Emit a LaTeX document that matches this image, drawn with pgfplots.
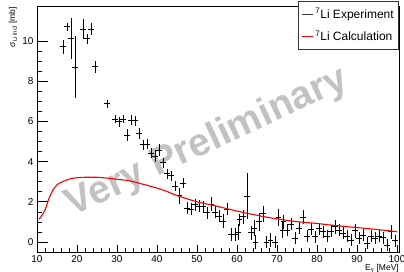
\documentclass[border=0pt]{standalone}
\usepackage{fontspec}
\setmainfont{Liberation Sans}
\usepackage{pgfplots}
\usepackage{pgfplotstable}
\pgfplotsset{compat=1.18}

\pgfplotstableread{
x y ey
16.5 9.72 0.35
17.5 10.71 0.2
18.5 10.13 1.04
19.5 8.70 1.55
21.5 10.60 0.5
22.5 10.13 0.25
23.5 10.60 0.3
24.5 8.72 0.3
27.5 6.88 0.2
29.5 6.10 0.2
30.5 5.99 0.25
31.5 6.12 0.2
32.5 5.32 0.3
33.5 6.07 0.25
34.5 6.04 0.25
35.5 5.40 0.25
36.5 4.85 0.25
37.5 4.88 0.25
38.5 4.41 0.25
39.5 4.26 0.3
40.5 4.56 0.3
41.5 3.95 0.25
42.5 3.40 0.25
43.5 3.29 0.25
44.5 2.77 0.25
45.5 2.30 0.4
46.5 2.93 0.25
47.5 1.68 0.3
48.5 1.62 0.3
49.5 1.86 0.3
50.5 1.77 0.3
51.5 1.76 0.3
52.5 1.45 0.3
53.5 1.89 0.35
54.5 1.49 0.3
55.5 1.29 0.3
56.5 1.03 0.35
57.5 1.62 0.3
58.5 0.37 0.3
59.5 0.37 0.3
60.3 0.50 0.4
60.7 1.10 0.3
61.5 1.26 0.35
62.5 2.29 1.16
63.5 0.46 0.35
64.3 0.68 0.4
64.7 0.00 0.35
65.5 1.00 0.45
66.5 1.40 0.4
67.3 0.00 0.3
68.3 0.10 0.35
69.5 0.00 0.3
70.3 1.23 0.43
71.3 0.60 0.4
71.7 1.00 0.35
72.5 0.60 0.3
73.5 0.88 0.3
74.5 0.18 0.3
75.5 0.68 0.3
76.5 1.23 0.35
77.5 0.30 0.3
78.5 0.63 0.3
79.5 0.26 0.3
80.5 0.65 0.3
81.5 0.51 0.3
82.5 0.30 0.3
83.5 0.55 0.3
84.5 0.76 0.35
85.5 0.60 0.3
86.5 0.43 0.3
87.5 0.30 0.3
88.5 0.10 0.3
89.5 0.56 0.35
90.5 0.18 0.3
91.5 0.35 0.3
92.5 -0.07 0.3
93.5 0.30 0.3
94.5 0.18 0.3
95.5 0.30 0.3
96.5 0.21 0.3
97.5 -0.15 0.3
98.5 0.51 0.35
99.5 0.07 0.3
}\expdata

\pgfplotstableread{
x y
10.5 1.13
11 1.25
12 1.59
13 2.17
14 2.59
15 2.84
16 2.97
17 3.05
18 3.13
20 3.20
22 3.22
25 3.22
28 3.17
30 3.12
33 3.05
36 2.90
40 2.68
42 2.55
45 2.31
50 2.00
55 1.78
58 1.63
62 1.45
67 1.25
70 1.15
75 1.01
80 0.92
83 0.85
88 0.75
92 0.68
96 0.60
100 0.51
}\calcdata

\begin{document}
\begin{tikzpicture}
\begin{axis}[
  scale only axis, width=362pt, height=246pt,
  xmin=10, xmax=100.5, ymin=-0.5, ymax=11.75,
  axis line style={line width=0.7pt},
  xtick={10,20,...,100}, minor x tick num=4,
  ytick={0,2,...,10}, minor y tick num=3,
  tick align=inside, tick pos=left,
  tick style={black, line width=0.6pt},
  xtick style={/pgfplots/major tick length=7.4pt,/pgfplots/minor tick length=3.7pt},
  ytick style={/pgfplots/major tick length=10.8pt,/pgfplots/minor tick length=5.4pt},
  /pgf/number format/assume math mode=true,
  ticklabel style={font=\fontsize{10}{11}\selectfont},
  xticklabel style={yshift=0pt},
  legend style={at={(rel axis cs:1,1)}, anchor=north east, yshift=5pt,
    draw=black!80, line width=0.6pt, fill=white,
    font=\fontsize{12}{13}\selectfont, inner xsep=3pt, inner ysep=5pt,
    row sep=7pt, legend cell align=left},
  legend image code/.code={\draw[#1] (0pt,0pt) -- (11pt,0pt);},
]
\node[rotate=25, text=black!24, font=\fontsize{39}{40}\selectfont\bfseries]
  at (axis cs:52.5,4.95) {Very Preliminary};
\addplot[black, draw=none, mark=none, forget plot,
  error bars/.cd, x dir=both, x fixed=0.65, y dir=both, y explicit,
  error mark=none, error bar style={line width=0.8pt, black, solid}]
  table[x=x, y=y, y error=ey] {\expdata};
\addplot[red, line width=1.1pt, smooth, forget plot] table[x=x, y=y] {\calcdata};
\addlegendimage{black!80, line width=0.8pt}
\addlegendentry{\textsuperscript{7}Li Experiment}
\addlegendimage{red, line width=0.8pt}
\addlegendentry{\textsuperscript{7}Li Calculation}
\end{axis}
\node[anchor=north east, inner sep=0pt, font=\fontsize{8.5}{10}\selectfont]
  at ([yshift=-12pt]current axis.south east) {E\textsubscript{γ} [MeV]};
\node[rotate=90, anchor=east, inner sep=0pt, font=\fontsize{8.5}{10}\selectfont]
  at ([xshift=-24pt,yshift=-1pt]current axis.north west) {σ\textsubscript{Li incl} [mb]};
\pgfresetboundingbox
\path[use as bounding box] ([xshift=-37pt,yshift=-20pt]current axis.south west)
  rectangle ([xshift=5pt,yshift=6pt]current axis.north east);
\end{tikzpicture}
\end{document}
